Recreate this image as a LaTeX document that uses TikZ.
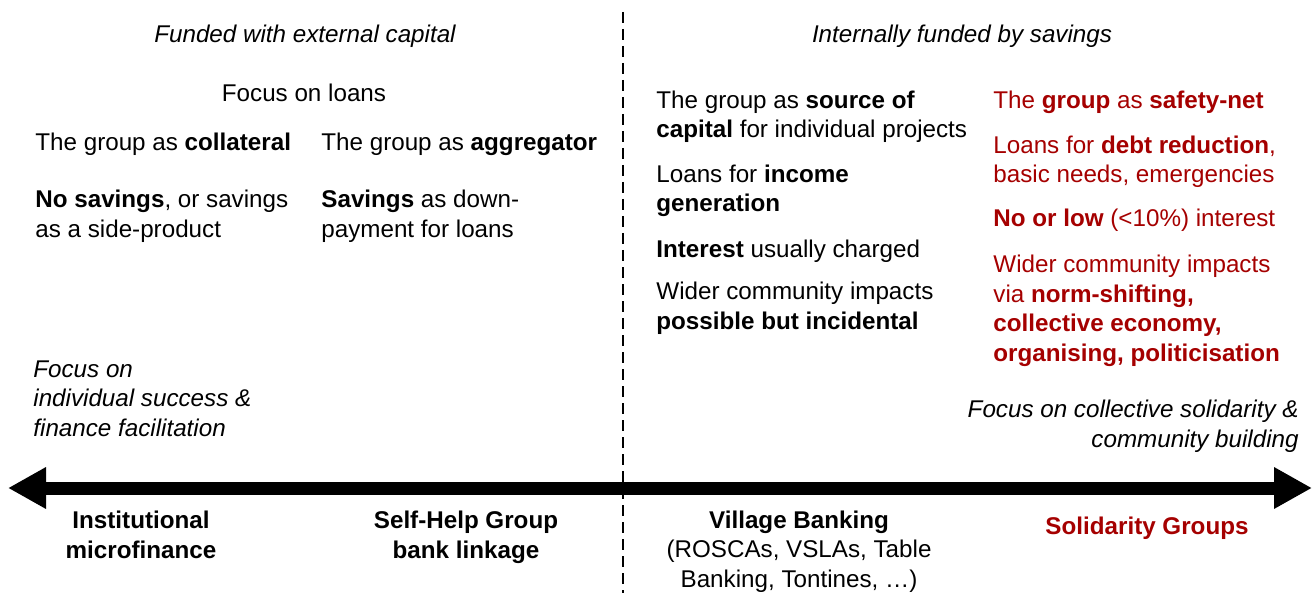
\documentclass[tikz,border=0pt]{standalone}
\usepackage{fontspec}
\setmainfont{Liberation Sans}
\usetikzlibrary{arrows.meta}
\definecolor{sgred}{RGB}{165,0,0}
\tikzset{
  txt/.style={anchor=base west, align=left, inner sep=0pt, font=\fontsize{12.1}{14.75}\selectfont},
  hd/.style={txt, anchor=base, font=\fontsize{12.1}{14.75}\selectfont\itshape},
  lab/.style={txt, anchor=base, align=center, font=\fontsize{12.1}{14.75}\selectfont\bfseries},
}

\begin{document}
\begin{tikzpicture}[x=0.5pt, y=-0.5pt]
  \useasboundingbox (0,0) rectangle (1316,593);
  % headings
  \node[hd] (ext) at (305,43) {Funded with external capital};
  \node[hd] (int) at (962,43) {Internally funded by savings};
  \node[txt, anchor=base] (loans) at (304,102) {Focus on loans};
  % left: external capital (anchors sit on the last line)
  \node[txt] (coll) at (35,151) {The group as \textbf{collateral}};
  \node[txt] (aggr) at (321,151) {The group as \textbf{aggregator}};
  \node[txt] (nosav) at (35,237) {\textbf{No savings}, or savings\\as a side-product};
  \node[txt] (sav) at (321,237) {\textbf{Savings} as down-\\payment for loans};
  \node[txt, font=\fontsize{12.1}{14.75}\selectfont\itshape] (indiv) at (33,436)
    {Focus on\\individual success \&\\finance facilitation};
  % middle: village banking
  \node[txt] (src) at (656,138) {The group as \textbf{source of}\\\textbf{capital} for individual projects};
  \node[txt] (inc) at (656,212) {Loans for \textbf{income}\\\textbf{generation}};
  \node[txt] (intr) at (656,257) {\textbf{Interest} usually charged};
  \node[txt] (wide) at (656,329) {Wider community impacts\\\textbf{possible but incidental}};
  % right: solidarity groups
  \begin{scope}[every node/.append style={text=sgred}]
    \node[txt] (safe) at (993,109) {The \textbf{group} as \textbf{safety-net}};
    \node[txt] (debt) at (993,183) {Loans for \textbf{debt reduction},\\basic needs, emergencies};
    \node[txt] (low) at (993,227) {\textbf{No or low} (<10\%) interest};
    \node[txt] (norm) at (993,361) {Wider community impacts\\via \textbf{norm-shifting,}\\\textbf{collective economy,}\\\textbf{organising, politicisation}};
  \end{scope}
  \node[txt, anchor=base east, align=right, font=\fontsize{12.1}{14.75}\selectfont\itshape] (coll2) at (1299,447)
    {Focus on collective solidarity \&\\community building};
  % divider and axis
  \coordinate (dtop) at (623,12);
  \coordinate (dbot) at (623,593);
  \draw[line width=1pt, dash pattern=on 5.5pt off 3pt] (dtop) -- (dbot);
  \coordinate (wl) at (8,488);
  \coordinate (wr) at (1312,488);
  \draw[line width=6.5pt, {Triangle[length=19pt,width=19.5pt]}-{Triangle[length=19pt,width=19.5pt]}] (wl) -- (wr);
  % models
  \node[lab] (imf) at (141,558) {Institutional\\microfinance};
  \node[lab] (shg) at (466,558) {Self-Help Group\\bank linkage};
  \node[lab] (vb) at (799,587) {Village Banking\\\mdseries(ROSCAs, VSLAs, Table\\\mdseries Banking, Tontines, …)};
  \node[lab, text=sgred] (sg) at (1147,534) {Solidarity Groups};
\end{tikzpicture}
\end{document}
